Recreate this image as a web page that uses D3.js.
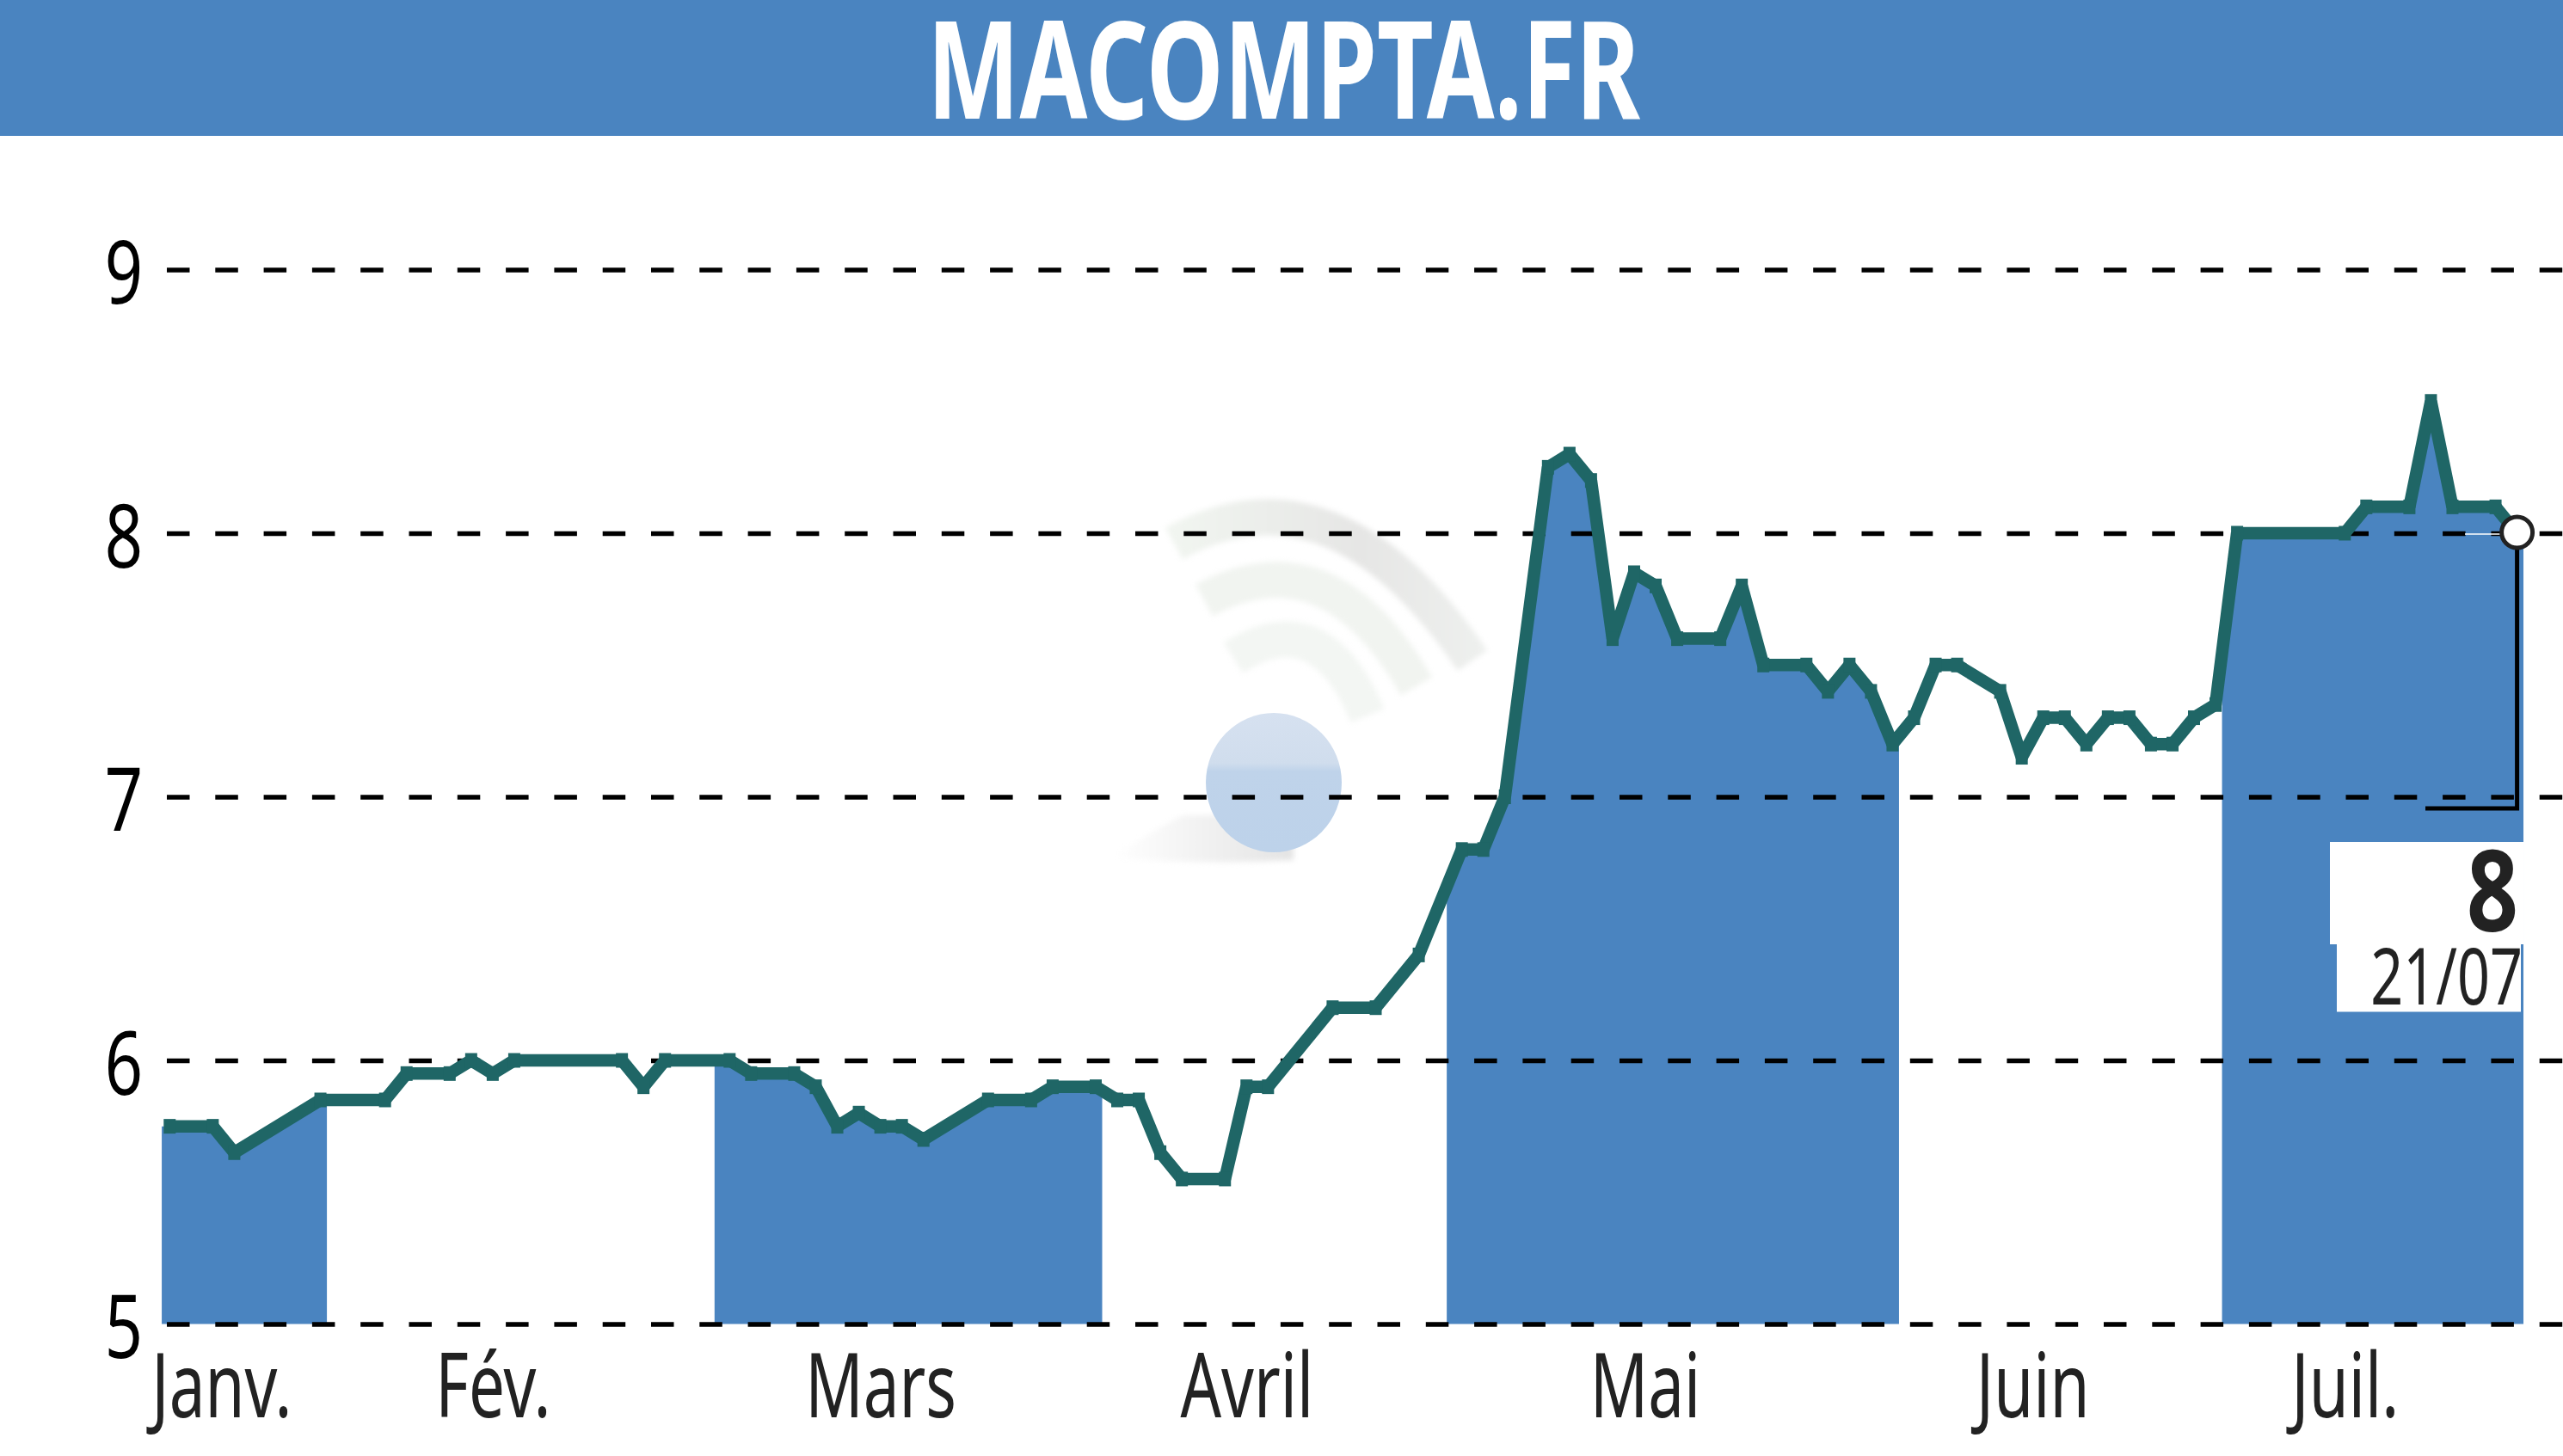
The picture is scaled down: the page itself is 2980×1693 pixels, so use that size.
<!DOCTYPE html>
<html>
<head>
<meta charset="utf-8">
<script src="https://cdn.jsdelivr.net/npm/d3@7"></script>
<style>
	body { margin: 0; background: #fff; }
	svg { display: block; }
	text { font-family: "Noto Sans", sans-serif; }
</style>
</head>
<body>
<script>
// Title and last quote
let title = "MACOMPTA.FR";
let lastValue = "8";
let lastDate = "21/07";

// Session number of every vertex of the curve (flat stretches have no vertex in between)
let sessions = [0, 2, 3, 7, 10, 11, 13, 14, 15, 16, 21, 22, 23, 26, 27, 29, 30, 31, 32, 33, 34, 35, 38, 40, 41, 43, 44, 45, 46, 47, 49, 50, 51, 54, 56, 58, 60, 61, 62, 64, 65, 66, 67, 68, 69, 70, 72, 73, 74, 76, 77, 78, 79, 80, 81, 82, 83, 85, 86, 87, 88, 89, 90, 91, 92, 93, 94, 95, 96, 101, 102, 104, 105, 106, 108, 109];
let prices = [5.75, 5.75, 5.65, 5.85, 5.85, 5.95, 5.95, 6, 5.95, 6, 6, 5.9, 6, 6, 5.95, 5.95, 5.9, 5.75, 5.8, 5.75, 5.75, 5.7, 5.85, 5.85, 5.9, 5.9, 5.85, 5.85, 5.65, 5.55, 5.55, 5.9, 5.9, 6.2, 6.2, 6.4, 6.8, 6.8, 7, 8.25, 8.3, 8.2, 7.6, 7.85, 7.8, 7.6, 7.6, 7.8, 7.5, 7.5, 7.4, 7.5, 7.4, 7.2, 7.3, 7.5, 7.5, 7.4, 7.15, 7.3, 7.3, 7.2, 7.3, 7.3, 7.2, 7.2, 7.3, 7.35, 8, 8, 8.1, 8.1, 8.5, 8.1, 8.1, 8];

// Month names, where the name sits and where each month begins (in sessions)
let months = ["Janv.", "Fév.", "Mars", "Avril", "Mai", "Juin", "Juil."];
let monthLabelAt = [2.4, 15, 33, 50, 68.5, 86.5, 101];
let monthEdges = [-0.37, 7.3, 25.3, 43.3, 59.3, 80.3, 95.3, 109.3];

let yTicks = [5, 6, 7, 8, 9];

let blue = "#4a84c0", green = "#1f6666", ink = "#222";

let svg = d3.select("body").append("svg")
	.attr("width", 2980)
	.attr("height", 1693);

let x = d3.scaleLinear().domain([0, 109]).range([197.3, 2926.6]);
let y = d3.scaleLinear().domain([5, 9]).range([1539.5, 313.5]);

let points = sessions.map((s, i) => ({ s: s, v: prices[i] }));

// ---- header
svg.append("rect")
	.attr("width", 2980)
	.attr("height", 158)
	.attr("fill", blue);
let titleText = svg.append("text")
	.attr("font-size", 158)
	.attr("font-weight", 700)
	.attr("fill", "#fff")
	.text(title);
titleText.attr("transform", `translate(1078,138) scale(${829 / titleText.node().getComputedTextLength()},1)`);

// ---- watermark behind everything
let defs = svg.append("defs");
let ballGrad = defs.append("linearGradient").attr("id", "ball").attr("x1", 0).attr("y1", 0).attr("x2", 0).attr("y2", 1);
ballGrad.append("stop").attr("offset", "0%").attr("stop-color", "#d6e1f0");
ballGrad.append("stop").attr("offset", "36%").attr("stop-color", "#d0dded");
ballGrad.append("stop").attr("offset", "42%").attr("stop-color", "#bfd3ea");
ballGrad.append("stop").attr("offset", "100%").attr("stop-color", "#bdd2ea");
let shadowGrad = defs.append("linearGradient").attr("id", "shadow");
shadowGrad.append("stop").attr("offset", "0%").attr("stop-color", "#fff");
shadowGrad.append("stop").attr("offset", "100%").attr("stop-color", "#e4e4e4");
let arcGrad = defs.append("linearGradient").attr("id", "arc").attr("gradientUnits", "userSpaceOnUse")
	.attr("x1", 1365).attr("x2", 1725).attr("y1", 0).attr("y2", 0);
arcGrad.append("stop").attr("offset", "0%").attr("stop-color", "#f1f5f0");
arcGrad.append("stop").attr("offset", "60%").attr("stop-color", "#e6e6e5");
arcGrad.append("stop").attr("offset", "100%").attr("stop-color", "#eef0ee");

let mark = svg.append("g").attr("filter", "blur(3px)");
mark.append("path")
	.attr("d", "M1293,997 Q1350,960 1376,948 L1504,948 L1504,1000 Q1400,1006 1293,997 Z")
	.attr("fill", "url(#shadow)");
[
	["M1365,632 Q1550,530 1712,768", "url(#arc)"],
	["M1400,698 Q1545,620 1647,798", "#f1f4f0"],
	["M1434,765 Q1535,700 1590,832", "#f3f6f3"]
].forEach(d => {
	mark.append("path")
		.attr("d", d[0])
		.attr("fill", "none")
		.attr("stroke", d[1])
		.attr("stroke-width", 42);
});
svg.append("ellipse")
	.attr("cx", 1481)
	.attr("cy", 910)
	.attr("rx", 79)
	.attr("ry", 81)
	.attr("fill", "url(#ball)");

// ---- one clip per second month: the curve is only filled in those
let clip = defs.append("clipPath").attr("id", "bands");
d3.range(0, months.length, 2).forEach(i => {
	clip.append("rect")
		.attr("x", x(monthEdges[i]))
		.attr("width", x(monthEdges[i + 1]) - x(monthEdges[i]))
		.attr("y", 0)
		.attr("height", 1693);
});

let areaPoints = [{ s: monthEdges[0], v: prices[0] }, ...points, { s: monthEdges[monthEdges.length - 1], v: prices[prices.length - 1] }];
let area = d3.area()
	.x(d => x(d.s))
	.y0(y(5))
	.y1(d => y(d.v));

svg.append("path")
	.attr("d", area(areaPoints))
	.attr("fill", blue)
	.attr("clip-path", "url(#bands)");

// ---- y axis: its ticks are the dashed grid
let yAxis = d3.axisLeft(y)
	.tickValues(yTicks)
	.tickFormat(d3.format("d"))
	.tickSize(-(2980 - 194))
	.tickPadding(0);

let yGroup = svg.append("g")
	.attr("transform", "translate(194,0)")
	.call(yAxis);
yGroup.select(".domain").remove();
yGroup.selectAll("line")
	.attr("stroke", "#000")
	.attr("stroke-width", 5.5)
	.attr("stroke-dasharray", "26.5 29.8");
yGroup.selectAll("text")
	.attr("x", 0)
	.attr("dy", 0)
	.attr("y", 0)
	.attr("text-anchor", "end")
	.attr("dominant-baseline", "central")
	.attr("font-size", 102)
	.attr("font-family", "'Noto Sans', sans-serif")
	.attr("fill", "#000")
	.attr("transform", "translate(-28,0) scale(.76,1)");

// ---- x axis: month names only
let xAxis = d3.axisBottom(x)
	.tickValues(monthLabelAt)
	.tickFormat((d, i) => months[i])
	.tickSize(0);

let xGroup = svg.append("g").call(xAxis);
xGroup.select(".domain").remove();
xGroup.selectAll("text")
	.attr("y", 0)
	.attr("dy", 0)
	.attr("text-anchor", "middle")
	.attr("font-size", 105)
	.attr("font-family", "'Noto Sans', sans-serif")
	.attr("fill", ink)
	.attr("transform", "translate(0,1648) scale(.71,1)");

// ---- curve and its small square marks
let line = d3.line()
	.x(d => x(d.s))
	.y(d => y(d.v));

svg.append("path")
	.attr("d", line(points))
	.attr("fill", "none")
	.attr("stroke", green)
	.attr("stroke-width", 14.5)
	.attr("stroke-linejoin", "bevel");

svg.append("g").selectAll("rect")
	.data(points)
	.join("rect")
	.attr("x", d => x(d.s) - 7)
	.attr("y", d => y(d.v) - 8.5)
	.attr("width", 14)
	.attr("height", 17)
	.attr("fill", green);

// ---- last quote callout
let lastX = x(sessions[sessions.length - 1]), lastY = y(prices[prices.length - 1]);

svg.append("line")
	.attr("x1", 2866).attr("x2", 2908)
	.attr("y1", lastY + 1).attr("y2", lastY + 1)
	.attr("stroke", "#fff")
	.attr("stroke-width", 1.5);
svg.append("path")
	.attr("d", `M${lastX},${lastY} V940 H2820`)
	.attr("fill", "none")
	.attr("stroke", "#000")
	.attr("stroke-width", 5);
svg.append("circle")
	.attr("cx", lastX)
	.attr("cy", lastY - 1)
	.attr("r", 18)
	.attr("fill", "#fff")
	.attr("stroke", ink)
	.attr("stroke-width", 5);

svg.append("rect").attr("x", 2709).attr("y", 979).attr("width", 225).attr("height", 119).attr("fill", "#fff");
svg.append("rect").attr("x", 2717).attr("y", 1098).attr("width", 214).attr("height", 78.5).attr("fill", "#fff");

svg.append("text")
	.attr("text-anchor", "end")
	.attr("font-size", 131)
	.attr("font-weight", 700)
	.attr("fill", ink)
	.attr("transform", "translate(2928,1083) scale(.8,1)")
	.text(lastValue);
svg.append("text")
	.attr("text-anchor", "end")
	.attr("font-size", 91)
	.attr("fill", ink)
	.attr("transform", "translate(2933,1168) scale(.73,1)")
	.text(lastDate);
</script>
</body>
</html>
